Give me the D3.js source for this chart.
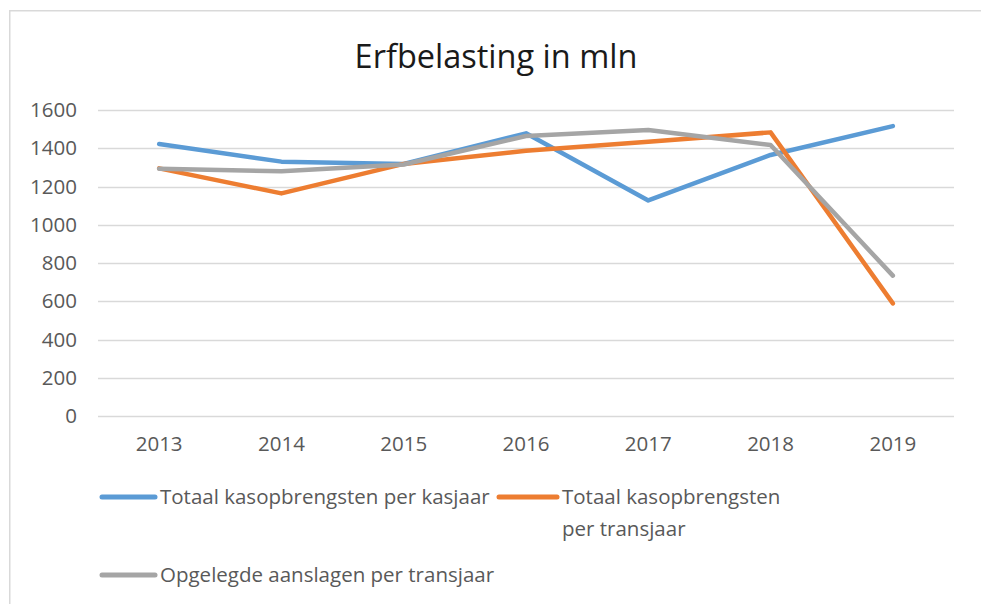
<!DOCTYPE html>
<html><head><meta charset="utf-8">
<script src="https://cdn.jsdelivr.net/npm/d3@7"></script>
<style>
html,body{margin:0;padding:0;background:#fff;}
svg{display:block;font-family:"Open Sans",Lato,sans-serif;}
</style></head>
<body><svg id="c" width="981" height="604"></svg>
<script>
const years = ["2013","2014","2015","2016","2017","2018","2019"];
const kasjaar = [1422, 1330, 1318, 1478, 1127, 1365, 1516];
const transjaar = [1295, 1164, 1318, 1387, 1434, 1483, 589];
const aanslagen = [1293, 1280, 1315, 1464, 1495, 1417, 734];
const yTicks = [0, 200, 400, 600, 800, 1000, 1200, 1400, 1600];
const seriesNames = ["Totaal kasopbrengsten per kasjaar", "Totaal kasopbrengsten per transjaar", "Opgelegde aanslagen per transjaar"];
const colors = ["#5B9BD5", "#ED7D31", "#A5A5A5"];
const title = "Erfbelasting in mln";

const FONT = "'Open Sans',Lato,sans-serif";
const svg = d3.select("#c");
svg.append("rect").attr("x",9.75).attr("y",10.75).attr("width",1000).attr("height",700)
  .attr("fill","#fff").attr("stroke","#d9d9d9").attr("stroke-width",1.5);

svg.append("text").attr("x",496).attr("y",68).attr("text-anchor","middle")
  .attr("font-size",32.5).attr("fill","#1a1a1a").text(title);

const x = d3.scaleBand().domain(years).range([98, 954]);
const y = d3.scaleLinear().domain([0,1600]).range([416, 110]);

svg.append("g").selectAll("line").data(yTicks).join("line")
  .attr("x1",98).attr("x2",954).attr("y1",d=>Math.round(y(d))+0.5).attr("y2",d=>Math.round(y(d))+0.5)
  .attr("stroke","#d9d9d9").attr("stroke-width",1.3);

const yAxis = svg.append("g").attr("transform","translate(85,0)")
  .call(d3.axisLeft(y).tickValues(yTicks).tickSize(0).tickPadding(8).tickFormat(d3.format("d")));
yAxis.select(".domain").remove();
yAxis.selectAll("text").attr("font-size",20.5).attr("fill","#595959").attr("font-family",FONT);

const xAxis = svg.append("g").attr("transform","translate(0,416)")
  .call(d3.axisBottom(x).tickSize(0).tickPadding(20));
xAxis.select(".domain").remove();
xAxis.selectAll("text").attr("font-size",20.5).attr("fill","#595959").attr("font-family",FONT);

const data = [kasjaar, transjaar, aanslagen];
const line = d3.line().x((d,i)=>x(years[i])+x.bandwidth()/2).y(d=>y(d));
[0,1,2].forEach(k=>{
  svg.append("path").datum(data[k]).attr("d",line).attr("fill","none")
    .attr("stroke",colors[k]).attr("stroke-width",4.5).attr("stroke-linejoin","round").attr("stroke-linecap","round");
});

const leg = [
  {sx:102, sy:497, tx:160, lines:["Totaal kasopbrengsten per kasjaar"]},
  {sx:499, sy:497, tx:562, lines:["Totaal kasopbrengsten","per transjaar"]},
  {sx:102, sy:575, tx:160, lines:["Opgelegde aanslagen per transjaar"]}
];
leg.forEach((l,k)=>{
  svg.append("line").attr("x1",l.sx).attr("x2",l.tx-5).attr("y1",l.sy).attr("y2",l.sy)
    .attr("stroke",colors[k]).attr("stroke-width",5).attr("stroke-linecap","round");
  l.lines.forEach((t,j)=>{
    svg.append("text").attr("x",l.tx).attr("y",l.sy+7+j*32).attr("font-size",20.5).attr("fill","#595959").text(t);
  });
});
</script></body></html>
